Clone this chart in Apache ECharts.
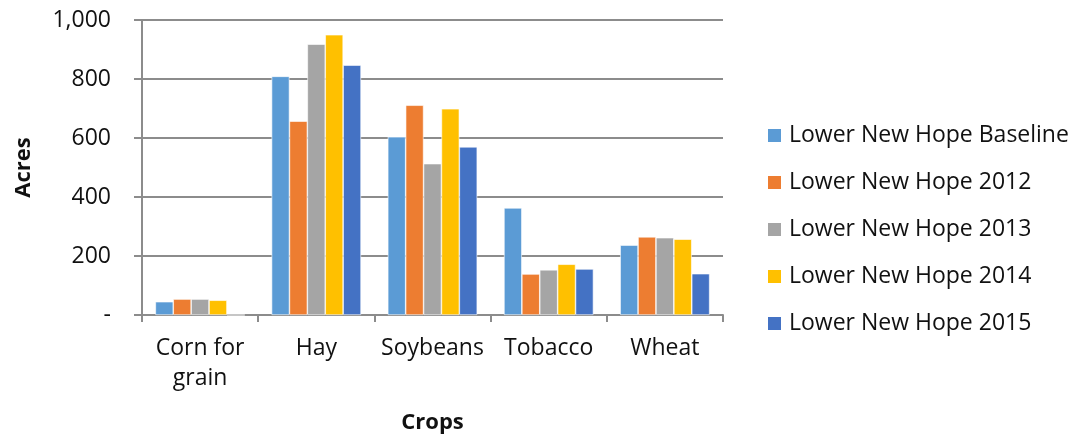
<!DOCTYPE html>
<html>
<head>
<meta charset="utf-8">
<script src="https://cdn.jsdelivr.net/npm/echarts@6/dist/echarts.min.js"></script>
<style>
  html, body { margin: 0; padding: 0; background: #fff; }
  #chart { width: 1076px; height: 439px; }
</style>
</head>
<body>
<div id="chart"></div>
<script>
// Crop acreage by year
const categories = ['Corn for\ngrain', 'Hay', 'Soybeans', 'Tobacco', 'Wheat'];
const seriesNames = [
  'Lower New Hope Baseline',
  'Lower New Hope 2012',
  'Lower New Hope 2013',
  'Lower New Hope 2014',
  'Lower New Hope 2015'
];
const baseline = [45, 809, 604, 363, 237];
const y2012 = [54, 657, 711, 139, 265];
const y2013 = [54, 918, 513, 153, 262];
const y2014 = [50, 950, 699, 172, 257];
const y2015 = [0, 847, 570, 156, 140];
const yTicks = [0, 200, 400, 600, 800, 1000];

const colors = ['#5B9BD5', '#ED7D31', '#A5A5A5', '#FFC000', '#4472C4'];
const values = [baseline, y2012, y2013, y2014, y2015];
const fontFamily = '"Open Sans", "Liberation Sans", sans-serif';
const textColor = '#111';
const lineColor = '#8c8c8c';

const chart = echarts.init(document.getElementById('chart'), null, { renderer: 'canvas' });

chart.setOption({
  animation: false,
  color: colors,
  textStyle: { fontFamily: fontFamily },
  grid: { left: 142, right: 353, top: 20, bottom: 123, containLabel: false },
  legend: {
    orient: 'vertical',
    left: 766,
    top: 124,
    padding: 0,
    itemWidth: 15,
    itemHeight: 15,
    itemGap: 24,
    icon: 'rect',
    textStyle: { fontSize: 23, color: textColor, fontFamily: fontFamily, padding: [0, 0, 0, 2] },
    data: seriesNames
  },
  xAxis: {
    type: 'category',
    data: categories,
    name: 'Crops',
    nameLocation: 'middle',
    nameGap: 97,
    nameTextStyle: { fontSize: 22, fontWeight: 'bold', color: textColor },
    axisLine: { lineStyle: { color: lineColor, width: 2 } },
    axisTick: { show: true, alignWithLabel: false, length: 7, lineStyle: { color: lineColor, width: 2 } },
    axisLabel: {
      interval: 0,
      hideOverlap: false,
      fontSize: 23,
      color: textColor,
      margin: 18,
      lineHeight: 30
    }
  },
  yAxis: {
    type: 'value',
    min: yTicks[0],
    max: yTicks[yTicks.length - 1],
    interval: 200,
    name: 'Acres',
    nameLocation: 'middle',
    nameRotate: 90,
    nameGap: 107,
    nameTextStyle: { fontSize: 22, fontWeight: 'bold', color: textColor },
    axisLine: { show: true, lineStyle: { color: lineColor, width: 2 } },
    axisTick: { show: true, length: 8, lineStyle: { color: lineColor, width: 2 } },
    splitLine: { lineStyle: { color: lineColor, width: 2 } },
    axisLabel: {
      fontSize: 23,
      color: textColor,
      margin: 31,
      formatter: v => (v === 0 ? '-' : v.toLocaleString('en-US'))
    }
  },
  series: seriesNames.map((name, i) => ({
    name: name,
    type: 'bar',
    data: values[i],
    barGap: '0%',
    barCategoryGap: '23%',
    itemStyle: { color: colors[i], borderColor: '#fff', borderWidth: 0.6 }
  }))
});
</script>
</body>
</html>
